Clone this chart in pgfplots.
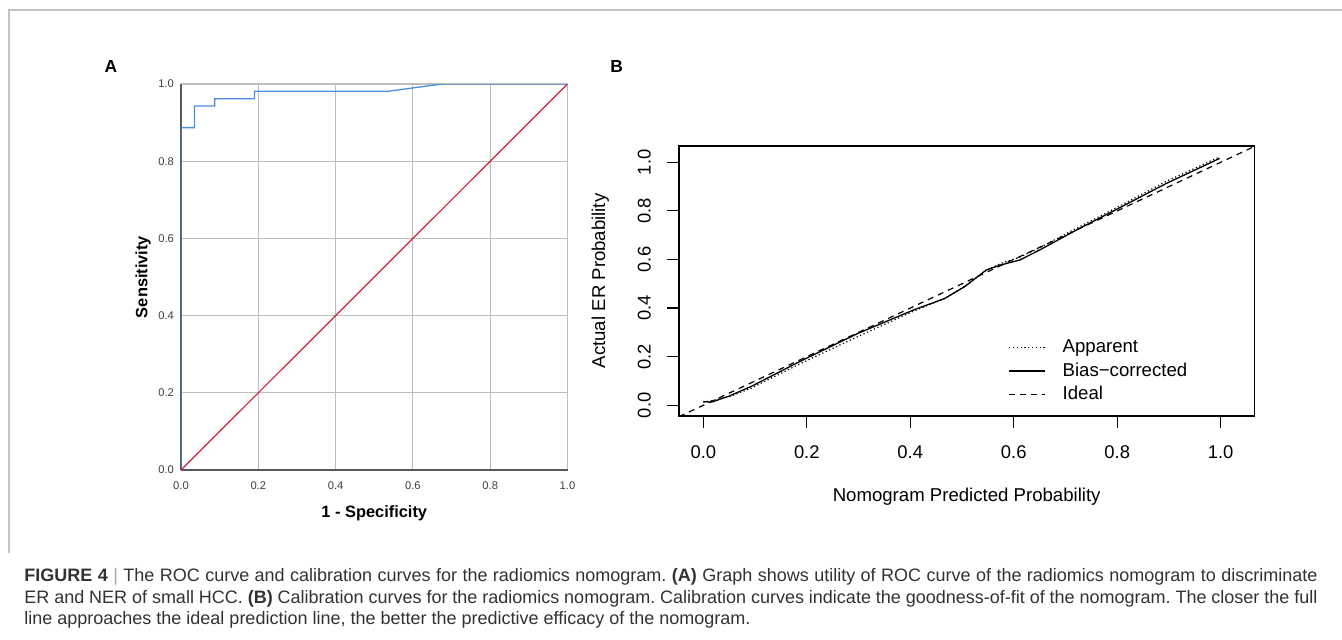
\documentclass[border=0pt]{standalone}
\usepackage{fontspec}
\setmainfont{Liberation Sans}
\usepackage{pgfplots}
\pgfplotsset{compat=1.18}

\definecolor{rocblue}{RGB}{74,144,226}
\definecolor{rocred}{RGB}{208,32,56}
\definecolor{gridgray}{RGB}{190,190,190}
\definecolor{framegray}{RGB}{195,195,195}
\definecolor{capgray}{RGB}{50,50,50}

\begin{document}
\frenchspacing
\begin{tikzpicture}
\useasboundingbox (0,0) rectangle (671pt,-319.5pt);
% open frame round the figure
\draw[framegray, line width=0.8pt] (4.5pt,-276.5pt) -- (4.5pt,-5pt) -- (671pt,-5pt);

\node[font=\bfseries\fontsize{8.7}{10}\selectfont, inner sep=0pt] at (55.5pt,-33.2pt) {A};
\node[font=\bfseries\fontsize{8.7}{10}\selectfont, inner sep=0pt] at (308.35pt,-33.35pt) {B};

% (A) ROC curve
\begin{axis}[
  at={(90.5pt,-235pt)}, anchor=south west,
  scale only axis, width=193.25pt, height=193pt,
  xmin=0, xmax=1, ymin=0, ymax=1,
  xtick={0,0.2,0.4,0.6,0.8,1}, ytick={0,0.2,0.4,0.6,0.8,1},
  grid=major, grid style={gridgray, line width=0.55pt},
  axis lines=left, axis line style={-, draw=black!65, line width=0.6pt},
  major tick length=0pt,
  /pgf/number format/assume math mode=true,
  tick label style={font=\fontsize{5.6}{6}\selectfont, text=black!75,
    /pgf/number format/fixed, /pgf/number format/fixed zerofill,
    /pgf/number format/precision=1},
  xticklabel shift=2.5pt,
  xlabel={1 - Specificity}, ylabel={Sensitivity},
  label style={font=\bfseries\fontsize{8.2}{10}\selectfont},
  xlabel style={at={(axis description cs:0.5,-0.111)}, anchor=center},
  ylabel style={at={(axis description cs:-0.098,0.5)}, anchor=center},
]
\addplot[rocblue, line width=0.65pt] coordinates {
  (0,0) (0,0.887) (0.035,0.887) (0.035,0.943) (0.087,0.943) (0.087,0.962)
  (0.19,0.962) (0.19,0.981) (0.535,0.981) (0.675,1) (1,1)};
\addplot[rocred, line width=0.6pt] coordinates {(0,0) (1,1)};
\end{axis}

% (B) calibration curves
\begin{axis}[
  at={(339.5pt,-207.85pt)}, anchor=south west,
  scale only axis, width=287.65pt, height=134.85pt,
  xmin=-0.047, xmax=1.065, ymin=-0.043, ymax=1.067,
  xtick={0,0.2,0.4,0.6,0.8,1}, ytick={0,0.2,0.4,0.6,0.8,1},
  tick pos=left, tick align=outside, major tick length=6.2pt,
  tick style={black, line width=0.6pt},
  axis line style={line width=0.8pt},
  /pgf/number format/assume math mode=true,
  tick label style={font=\fontsize{9.2}{10}\selectfont,
    /pgf/number format/fixed, /pgf/number format/fixed zerofill,
    /pgf/number format/precision=1},
  yticklabel style={rotate=90, anchor=south},
  xticklabel shift=5.4pt, yticklabel shift=4.4pt,
  xlabel={Nomogram Predicted Probability}, ylabel={Actual ER Probability},
  label style={font=\fontsize{9.3}{11}\selectfont},
  xlabel style={at={(axis description cs:0.5,-0.300)}, anchor=center},
  ylabel style={at={(axis description cs:-0.137,0.5)}, anchor=center},
  legend cell align=left,
  legend image code/.code={\draw[#1] (0pt,0pt) -- (17.9pt,0pt);},
  legend style={draw=none, fill=none, at={(axis cs:0.590,0.286)},
    anchor=north west, inner sep=0pt, outer sep=0pt, row sep=0pt,
    column sep=8.5pt,
    nodes={inner sep=0pt, minimum height=11.75pt,
      font=\fontsize{9.3}{11}\selectfont}},
]
\addplot[black, line width=0.6pt, dash pattern=on 0.6pt off 1.3pt] coordinates {
  (0.0,0.012) (0.05,0.035) (0.092,0.07) (0.192,0.176) (0.299,0.283)
  (0.406,0.387) (0.467,0.44) (0.505,0.49) (0.547,0.555) (0.574,0.583)
  (0.612,0.61) (0.650,0.648) (0.727,0.735) (0.803,0.818) (0.895,0.922)
  (0.998,1.022)};
\addlegendentry{Apparent}
\addplot[black, line width=0.65pt] coordinates {
  (0.0,0.015) (0.016,0.013) (0.05,0.038) (0.092,0.077) (0.192,0.186)
  (0.299,0.296) (0.406,0.392) (0.467,0.440) (0.505,0.488) (0.547,0.557)
  (0.574,0.577) (0.612,0.598) (0.650,0.639) (0.727,0.728) (0.803,0.811)
  (0.895,0.913) (0.998,1.016)};
\addlegendentry{Bias−corrected}
\addplot[black, line width=0.6pt, dash pattern=on 3pt off 2.5pt] coordinates {
  (-0.047,-0.047) (1.065,1.065)};
\addlegendentry{Ideal}
\end{axis}

% caption
\begin{scope}[every node/.style={anchor=base west, inner sep=0pt, text=capgray,
    font=\fontsize{9}{11}\selectfont}]
\node at (12pt,-290.8pt) {\makebox[646.5pt][s]{\textbf{FIGURE 4} {\color{black!35}|} The ROC curve and calibration curves for the radiomics nomogram. \textbf{(A)} Graph shows utility of ROC curve of the radiomics nomogram to discriminate}};
\node at (12pt,-301.7pt) {\makebox[646.5pt][s]{ER and NER of small HCC. \textbf{(B)} Calibration curves for the radiomics nomogram. Calibration curves indicate the goodness-of-fit of the nomogram. The closer the full}};
\node at (12pt,-312.2pt) {line approaches the ideal prediction line, the better the predictive efficacy of the nomogram.};
\end{scope}
\end{tikzpicture}
\end{document}
